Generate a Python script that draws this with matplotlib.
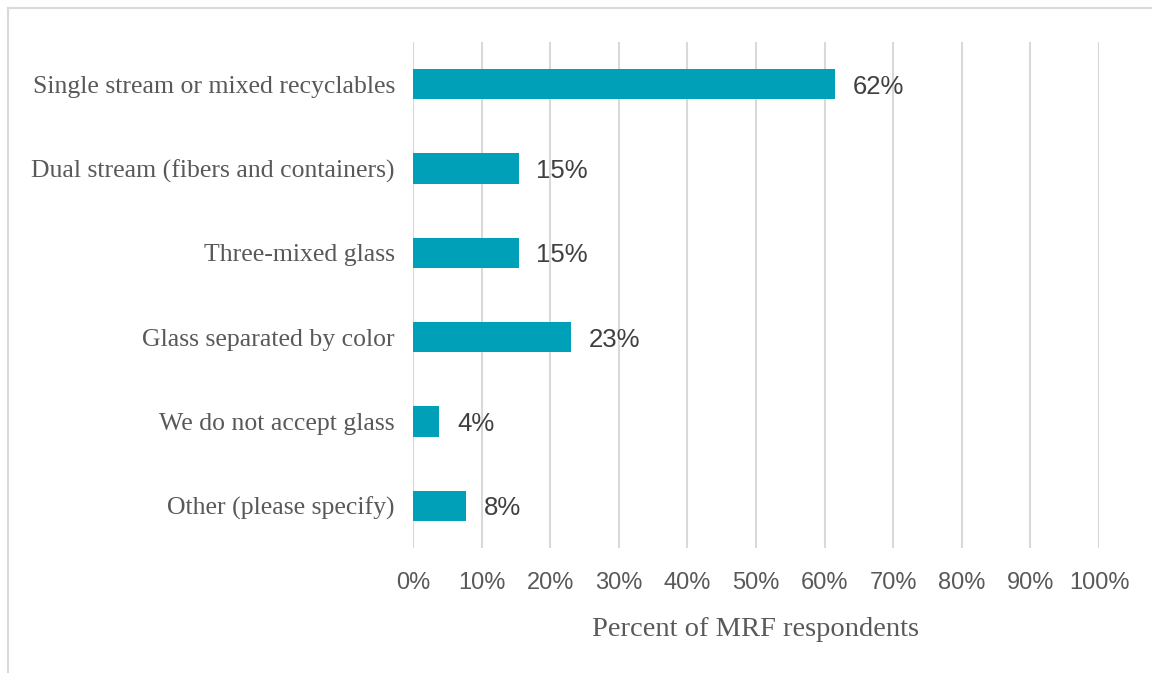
import matplotlib.pyplot as plt
from matplotlib.lines import Line2D

# survey shares out of 26 MRF respondents
categories = ["Single stream or mixed recyclables",
              "Dual stream (fibers and containers)",
              "Three-mixed glass",
              "Glass separated by color",
              "We do not accept glass",
              "Other (please specify)"]
counts = [16, 4, 4, 6, 1, 2]
total = 26
shares = [100 * c / total for c in counts]
xticks = list(range(0, 101, 10))

bar_color = "#00A0B8"
grid_color = "#D9D9D9"
serif = "Liberation Serif"
sans = "Liberation Sans"

fig = plt.figure(figsize=(11.52, 6.73), dpi=100)
ax = fig.add_axes([0.3585, 0.1857, 0.5955, 0.752])

y = list(range(len(categories)))
ax.barh(y, shares, height=0.36, color=bar_color, zorder=3)
for yi, v in zip(y, shares):
    ax.text(v + 2.6, yi + 0.03, f"{v:.0f}%", va="center", ha="left",
            fontsize=18.5, color="#404040", family=sans)

ax.set_xlim(0, 100)
ax.set_ylim(len(categories) - 0.5, -0.5)
ax.set_xticks(xticks)
ax.set_xticklabels([f"{t}%" for t in xticks], fontsize=17, color="#595959", family=sans)
ax.set_yticks(y)
ax.set_yticklabels(categories, fontsize=18.5, color="#595959", family=serif)
ax.tick_params(axis="y", length=0, pad=13)
ax.tick_params(axis="x", length=0, pad=17)
ax.grid(axis="x", color=grid_color, linewidth=1.5, zorder=0)
for s in ax.spines.values():
    s.set_visible(False)
ax.set_xlabel("Percent of MRF respondents", fontsize=20.5, color="#595959",
              family=serif, labelpad=17)

# outer frame on top and left
fig.add_artist(Line2D([8 / 1152, 1], [1 - 8 / 673] * 2, color=grid_color, lw=1.5,
                      transform=fig.transFigure))
fig.add_artist(Line2D([8 / 1152] * 2, [0, 1 - 8 / 673], color=grid_color, lw=1.5,
                      transform=fig.transFigure))

fig.savefig("out.png", dpi=100)
